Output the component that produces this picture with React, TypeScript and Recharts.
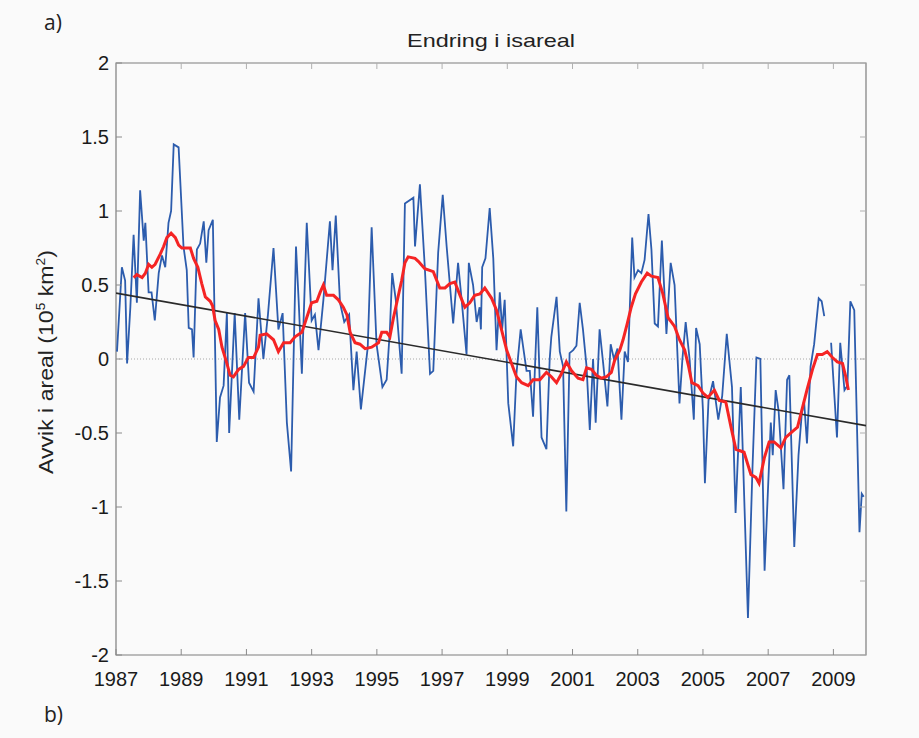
import React from 'react';
import { LineChart, Line, XAxis, YAxis, ReferenceLine, ReferenceArea } from 'recharts';

// ---------- data ----------
const chartTitle = 'Endring i isareal';

const blueYears = [
  1987.03, 1987.18, 1987.28, 1987.34, 1987.44, 1987.54, 1987.64, 1987.74, 1987.85, 1987.9,
  1988.0, 1988.09, 1988.19, 1988.31, 1988.41, 1988.51, 1988.61, 1988.69, 1988.77, 1988.92,
  1989.07, 1989.17, 1989.23, 1989.33, 1989.38, 1989.48, 1989.58, 1989.69, 1989.77, 1989.84,
  1989.97, 1990.09, 1990.19, 1990.3, 1990.4, 1990.47, 1990.64, 1990.78, 1990.96, 1991.08,
  1991.22, 1991.37, 1991.52, 1991.66, 1991.83, 1991.98, 1992.11, 1992.24, 1992.37, 1992.52,
  1992.6, 1992.7, 1992.85, 1993.0, 1993.1, 1993.21, 1993.36, 1993.56, 1993.64, 1993.74,
  1993.87, 1994.0, 1994.15, 1994.28, 1994.38, 1994.51, 1994.72, 1994.84, 1994.99, 1995.17,
  1995.3, 1995.4, 1995.47, 1995.58, 1995.76, 1995.86, 1996.12, 1996.17, 1996.32, 1996.47,
  1996.63, 1996.73, 1996.88, 1997.02, 1997.14, 1997.34, 1997.49, 1997.6, 1997.75, 1997.82,
  1997.95, 1998.06, 1998.15, 1998.19, 1998.23, 1998.33, 1998.46, 1998.57, 1998.67, 1998.77,
  1998.84, 1998.92, 1999.03, 1999.18, 1999.28, 1999.41, 1999.59, 1999.69, 1999.79, 1999.92,
  2000.05, 2000.2, 2000.3, 2000.35, 2000.51, 2000.61, 2000.71, 2000.81, 2000.91, 2001.02,
  2001.12, 2001.22, 2001.32, 2001.43, 2001.53, 2001.63, 2001.71, 2001.83, 2001.94, 2002.07,
  2002.17, 2002.27, 2002.38, 2002.5, 2002.6, 2002.7, 2002.83, 2002.9, 2003.01, 2003.11,
  2003.21, 2003.33, 2003.42, 2003.52, 2003.62, 2003.74, 2003.88, 2004.01, 2004.13, 2004.28,
  2004.37, 2004.47, 2004.59, 2004.72, 2004.79, 2004.9, 2005.0, 2005.06, 2005.17, 2005.31,
  2005.47, 2005.59, 2005.73, 2005.89, 2006.0, 2006.16, 2006.38, 2006.52, 2006.64, 2006.76,
  2006.89, 2007.08, 2007.14, 2007.23, 2007.32, 2007.47, 2007.58, 2007.65, 2007.8, 2007.93,
  2008.03, 2008.1, 2008.19, 2008.3, 2008.41, 2008.55, 2008.64, 2008.72, 2008.8, 2008.93,
  2009.11, 2009.21, 2009.34, 2009.43, 2009.52, 2009.64, 2009.8, 2009.87, 2009.93,
];

const blueValues: (number | null)[] = [
  0.05, 0.62, 0.53, -0.03, 0.35, 0.84, 0.38, 1.14, 0.8, 0.92,
  0.45, 0.45, 0.26, 0.58, 0.7, 0.62, 0.92, 1.0, 1.45, 1.43,
  0.76, 0.6, 0.21, 0.2, 0.01, 0.74, 0.78, 0.93, 0.65, 0.87,
  0.94, -0.56, -0.26, -0.18, 0.31, -0.5, 0.31, -0.41, 0.31, -0.16,
  -0.22, 0.41, 0.0, 0.3, 0.75, 0.2, 0.31, -0.43, -0.76, 0.76,
  0.4, -0.1, 0.92, 0.26, 0.3, 0.06, 0.4, 0.93, 0.6, 0.97,
  0.38, 0.25, 0.3, -0.21, 0.05, -0.34, 0.08, 0.89, 0.1, -0.19,
  -0.14, 0.2, 0.58, 0.4, -0.1, 1.05, 1.09, 0.76, 1.18, 0.62,
  -0.1, -0.08, 0.72, 1.11, 0.76, 0.24, 0.65, 0.4, 0.03, 0.65,
  0.5, 0.25, 0.35, 0.2, 0.62, 0.68, 1.02, 0.68, 0.06, 0.45,
  0.2, 0.4, -0.3, -0.59, -0.1, 0.2, -0.08, -0.08, -0.39, 0.35,
  -0.53, -0.61, 0.0, 0.15, 0.42, 0.05, -0.05, -1.03, 0.04, 0.06,
  0.09, 0.38, 0.2, -0.05, -0.48, 0.0, -0.43, 0.2, -0.03, -0.32,
  0.1, 0.0, 0.07, -0.41, 0.05, -0.02, 0.82, 0.55, 0.6, 0.58,
  0.67, 0.98, 0.74, 0.24, 0.22, 0.8, 0.17, 0.65, 0.5, -0.3,
  0.0, 0.25, 0.0, -0.41, 0.21, 0.1, -0.35, -0.84, -0.28, -0.15,
  -0.41, -0.25, 0.17, -0.19, -1.04, -0.19, -1.75, -0.73, 0.01, 0.0,
  -1.43, -0.43, -0.65, -0.21, -0.35, -0.88, -0.14, -0.11, -1.27, -0.65,
  -0.37, -0.28, -0.57, -0.05, 0.1, 0.41, 0.39, 0.29, null, 0.11,
  -0.53, 0.11, -0.21, -0.18, 0.39, 0.33, -1.17, -0.91, -0.93,
];

const redYears = [
  1987.54, 1987.64, 1987.8, 1987.9, 1988.0, 1988.1, 1988.2, 1988.36, 1988.46, 1988.56,
  1988.69, 1988.82, 1988.92, 1989.02, 1989.12, 1989.28, 1989.38, 1989.51, 1989.63, 1989.74,
  1989.89, 1989.96, 1990.04, 1990.15, 1990.25, 1990.4, 1990.5, 1990.6, 1990.76, 1990.91,
  1991.06, 1991.22, 1991.37, 1991.42, 1991.62, 1991.83, 1991.98, 1992.14, 1992.34, 1992.49,
  1992.7, 1992.85, 1993.0, 1993.16, 1993.26, 1993.36, 1993.46, 1993.67, 1993.82, 1993.97,
  1994.08, 1994.18, 1994.33, 1994.48, 1994.64, 1994.84, 1995.05, 1995.15, 1995.3, 1995.4,
  1995.51, 1995.61, 1995.76, 1995.86, 1995.96, 1996.17, 1996.27, 1996.47, 1996.73, 1996.93,
  1997.09, 1997.24, 1997.39, 1997.55, 1997.7, 1997.85, 1998.0, 1998.16, 1998.31, 1998.52,
  1998.67, 1998.82, 1998.98, 1999.13, 1999.28, 1999.44, 1999.64, 1999.79, 2000.0, 2000.2,
  2000.35, 2000.51, 2000.66, 2000.81, 2000.97, 2001.17, 2001.32, 2001.43, 2001.58, 2001.73,
  2001.89, 2002.04, 2002.19, 2002.29, 2002.45, 2002.55, 2002.68, 2002.8, 2002.93, 2003.11,
  2003.29, 2003.42, 2003.62, 2003.77, 2003.93, 2004.13, 2004.28, 2004.44, 2004.56, 2004.66,
  2004.85, 2005.0, 2005.15, 2005.35, 2005.5, 2005.7, 2005.86, 2006.01, 2006.26, 2006.47,
  2006.62, 2006.72, 2006.88, 2007.03, 2007.18, 2007.39, 2007.54, 2007.74, 2007.9, 2008.05,
  2008.2, 2008.36, 2008.51, 2008.66, 2008.81, 2008.97, 2009.12, 2009.28, 2009.38, 2009.46,
];

const redValues = [
  0.55, 0.57, 0.55, 0.58, 0.64, 0.62, 0.64, 0.71, 0.76, 0.82,
  0.85, 0.82, 0.77, 0.75, 0.75, 0.75, 0.68, 0.62, 0.51, 0.42,
  0.39, 0.36, 0.26, 0.2, 0.08, -0.03, -0.11, -0.12, -0.07, -0.05,
  0.01, 0.01, 0.08, 0.16, 0.17, 0.13, 0.05, 0.11, 0.11, 0.15,
  0.18, 0.28, 0.38, 0.39, 0.45, 0.5, 0.43, 0.43, 0.4, 0.35,
  0.3, 0.18, 0.11, 0.1, 0.07, 0.08, 0.11, 0.18, 0.18, 0.15,
  0.28, 0.38, 0.53, 0.65, 0.69, 0.68, 0.66, 0.61, 0.59, 0.48,
  0.48, 0.51, 0.52, 0.43, 0.35, 0.38, 0.43, 0.44, 0.48, 0.41,
  0.33, 0.2, 0.06, -0.03, -0.12, -0.16, -0.18, -0.14, -0.14, -0.09,
  -0.12, -0.16, -0.1, -0.02, -0.08, -0.13, -0.14, -0.06, -0.07, -0.11,
  -0.13, -0.12, -0.09, -0.01, 0.06, 0.13, 0.24, 0.35, 0.44, 0.52,
  0.58, 0.56, 0.55, 0.44, 0.28, 0.22, 0.13, 0.06, -0.05, -0.16,
  -0.18, -0.23, -0.26, -0.21, -0.28, -0.29, -0.46, -0.61, -0.63, -0.78,
  -0.8, -0.84, -0.67, -0.56, -0.56, -0.6, -0.53, -0.49, -0.46, -0.33,
  -0.2, -0.07, 0.03, 0.03, 0.05, 0.01, -0.02, -0.03, -0.12, -0.21,
];

const trendYears = [1987, 2010];
const trendValues = [0.445, -0.45];

const xTicks = [1987, 1989, 1991, 1993, 1995, 1997, 1999, 2001, 2003, 2005, 2007, 2009];
const yTicks = [-2, -1.5, -1, -0.5, 0, 0.5, 1, 1.5, 2];

// ---------- build series ----------
const blueData = blueYears.map((t, i) => ({ t, v: blueValues[i] }));
const redData = redYears.map((t, i) => ({ t, v: redValues[i] }));
const trendData = trendYears.map((t, i) => ({ t, v: trendValues[i] }));

// ---------- layout ----------
const W = 919;
const H = 738;
const PL = 116;
const PR = 866;
const PT = 63;
const PB = 655;
const FONT = '"Liberation Sans", Arial, Helvetica, sans-serif';

const XTick = (props: any) => {
  const { x, payload } = props;
  return (
    <g>
      <line x1={x} x2={x} y1={PB} y2={PB - 6} stroke="#8a8a8a" strokeWidth={1} />
      <line x1={x} x2={x} y1={PT} y2={PT + 6} stroke="#b0b0b0" strokeWidth={1} />
      <text x={x} y={PB + 31} textAnchor="middle" fontSize={20} fontFamily={FONT} fill="#1a1a1a">
        {payload.value}
      </text>
    </g>
  );
};

const YTick = (props: any) => {
  const { y, payload } = props;
  return (
    <g>
      <line x1={PL} x2={PL + 6} y1={y} y2={y} stroke="#8a8a8a" strokeWidth={1} />
      <line x1={PR} x2={PR - 6} y1={y} y2={y} stroke="#b0b0b0" strokeWidth={1} />
      <text x={PL - 7} y={y + 7} textAnchor="end" fontSize={20} fontFamily={FONT} fill="#1a1a1a">
        {payload.value}
      </text>
    </g>
  );
};

export default function App() {
  return (
    <div style={{ position: 'absolute', left: 0, top: 0, width: W, height: H, background: '#fafafa' }}>
      <LineChart
        width={W}
        height={H}
        margin={{ top: PT, right: W - PR, bottom: H - PB - 40, left: PL - 60 }}
      >
        <XAxis
          type="number"
          dataKey="t"
          domain={[1987, 2010]}
          ticks={xTicks}
          interval={0}
          allowDataOverflow
          height={40}
          tickSize={0}
          tickMargin={0}
          axisLine={false}
          tickLine={false}
          tick={<XTick />}
        />
        <YAxis
          type="number"
          domain={[-2, 2]}
          ticks={yTicks}
          interval={0}
          allowDataOverflow
          width={60}
          tickSize={0}
          tickMargin={0}
          axisLine={false}
          tickLine={false}
          tick={<YTick />}
        />
        <ReferenceArea x1={1987} x2={2010} y1={-2} y2={2} fill="none" stroke="#7d7d7d" strokeWidth={1.2} />
        <ReferenceLine y={0} stroke="#a8a8a8" strokeDasharray="1 2" strokeWidth={1} />
        <Line
          data={blueData}
          dataKey="v"
          type="linear"
          stroke="#2c5cad"
          strokeWidth={1.8}
          dot={false}
          connectNulls={false}
          isAnimationActive={false}
        />
        <Line
          data={trendData}
          dataKey="v"
          type="linear"
          stroke="#2a2a2a"
          strokeWidth={1.6}
          dot={false}
          isAnimationActive={false}
        />
        <Line
          data={redData}
          dataKey="v"
          type="linear"
          stroke="#f52424"
          strokeWidth={3}
          dot={false}
          isAnimationActive={false}
        />
      </LineChart>
      <svg
        width={W}
        height={H}
        style={{ position: 'absolute', left: 0, top: 0, pointerEvents: 'none' }}
      >
        <text
          x={(PL + PR) / 2}
          y={47}
          textAnchor="middle"
          fontSize={19}
          fontFamily={FONT}
          fill="#222"
          textLength={168}
          lengthAdjust="spacingAndGlyphs"
        >
          {chartTitle}
        </text>
        <text x={44} y={30} fontSize={21} fontFamily='"Open Sans", "Noto Sans", sans-serif' fill="#222">
          a)
        </text>
        <text x={44} y={722} fontSize={21} fontFamily='"Open Sans", "Noto Sans", sans-serif' fill="#222">
          b)
        </text>
        <text
          transform="translate(53,362) rotate(-90)"
          textAnchor="middle"
          fontSize={20}
          fontFamily={FONT}
          fill="#222"
          textLength={224}
          lengthAdjust="spacingAndGlyphs"
        >
          Avvik i areal (10
          <tspan fontSize={12} dy={-8}>5</tspan>
          <tspan dy={8}> km</tspan>
          <tspan fontSize={12} dy={-8}>2</tspan>
          <tspan dy={8}>)</tspan>
        </text>
      </svg>
    </div>
  );
}
